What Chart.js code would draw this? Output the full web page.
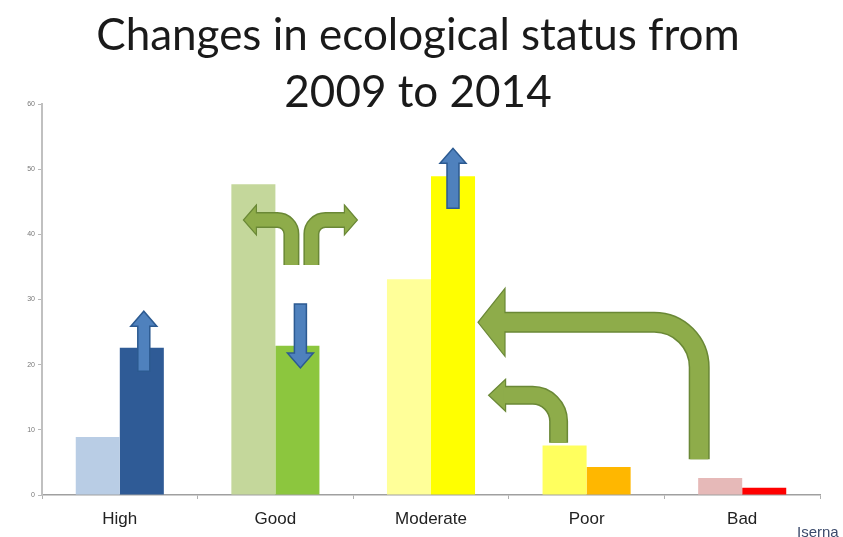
<!DOCTYPE html>
<html>
<head>
<meta charset="utf-8">
<script src="https://cdn.jsdelivr.net/npm/chart.js@4.4.1/dist/chart.umd.min.js"></script>
<style>
  html, body { margin: 0; padding: 0; background: #ffffff; }
  #wrap { position: relative; width: 843px; height: 537px; }
  canvas { display: block; }
</style>
</head>
<body>
<div id="wrap"><canvas id="c" width="843" height="537"></canvas></div>
<script>
// ---- data ----
const titleLines = ["Changes in ecological status from", "2009 to 2014"];
const categories = ["High", "Good", "Moderate", "Poor", "Bad"];
const values2009 = [8.9, 47.7, 33.1, 7.6, 2.6];
const values2014 = [22.6, 22.9, 48.9, 4.3, 1.1];
const colors2009 = ["#b9cde5", "#c4d79b", "#ffff99", "#ffff5e", "#e6b9b8"];
const colors2014 = ["#2f5b96", "#8cc63e", "#ffff00", "#ffb700", "#ff0000"];
const yTicks = [0, 10, 20, 30, 40, 50, 60];
const footnote = "Iserna";

// arrow annotations: category index + pixel offset for x, data value for y
const blueArrows = [
  { cat: 0, dx: 24, from: 19.0, to: 28.2 },
  { cat: 1, dx: 25, from: 29.3, to: 19.5 },
  { cat: 2, dx: 22, from: 44.0, to: 53.2 }
];
const greenArrows = [
  { cat: 1, dx: 16, bottom: 35.3, level: 42.2, tipCat: 1, tipDx: -32, w: 14, head: 30, headLen: 13, r: 14 },
  { cat: 1, dx: 36, bottom: 35.3, level: 42.2, tipCat: 1, tipDx: 82, w: 14, head: 30, headLen: 13, r: 14 },
  { cat: 3, dx: -28, bottom: 8.0, level: 15.3, tipCat: 3, tipDx: -98, w: 17, head: 32, headLen: 17, r: 26 },
  { cat: 4, dx: -43, bottom: 5.5, level: 26.5, tipCat: 2, tipDx: 47, w: 19, head: 68, headLen: 27, r: 45 }
];

const titlePlugin = {
  id: 'slideTitle',
  afterDraw(chart) {
    const ctx = chart.ctx;
    ctx.save();
    ctx.fillStyle = '#1a1a1a';
    ctx.font = '44px Lato, "Open Sans", sans-serif';
    ctx.textAlign = 'center';
    ctx.textBaseline = 'alphabetic';
    ctx.fillText(titleLines[0], 418, 50);
    ctx.fillText(titleLines[1], 418, 107);
    ctx.font = '15px "Liberation Sans", Arial, sans-serif';
    ctx.fillStyle = '#3b4a6b';
    ctx.textAlign = 'left';
    ctx.fillText(footnote, 797, 537);
    ctx.restore();
  }
};

function drawStraightArrow(ctx, x, y0, y1) {
  const w = 12, hw = 26, hl = 15;
  const dir = y1 < y0 ? -1 : 1;
  const base = y1 - dir * hl;
  ctx.beginPath();
  ctx.moveTo(x - w / 2, y0);
  ctx.lineTo(x - w / 2, base);
  ctx.lineTo(x - hw / 2, base);
  ctx.lineTo(x, y1);
  ctx.lineTo(x + hw / 2, base);
  ctx.lineTo(x + w / 2, base);
  ctx.lineTo(x + w / 2, y0);
  ctx.closePath();
  ctx.fillStyle = '#4f81bd';
  ctx.fill();
  ctx.lineWidth = 1.5;
  ctx.strokeStyle = '#2c5a91';
  ctx.stroke();
}

function drawBentArrow(ctx, xv, yb, yh, xt, a) {
  const dir = xt < xv ? -1 : 1;
  const headBase = xt - dir * a.headLen;
  const fill = '#8eac4a', edge = '#6a8836';
  const path = () => {
    ctx.beginPath();
    ctx.moveTo(xv, yb);
    ctx.lineTo(xv, yh + a.r);
    ctx.arcTo(xv, yh, xv + dir * a.r, yh, a.r);
    ctx.lineTo(headBase + dir * 2, yh);
  };
  ctx.lineCap = 'butt';
  path();
  ctx.strokeStyle = edge;
  ctx.lineWidth = a.w + 2;
  ctx.stroke();
  ctx.beginPath();
  ctx.moveTo(headBase, yh - a.head / 2);
  ctx.lineTo(xt, yh);
  ctx.lineTo(headBase, yh + a.head / 2);
  ctx.closePath();
  ctx.fillStyle = fill;
  ctx.fill();
  ctx.lineWidth = 1.2;
  ctx.strokeStyle = edge;
  ctx.stroke();
  path();
  ctx.strokeStyle = fill;
  ctx.lineWidth = a.w - 1;
  ctx.stroke();
}

const arrowPlugin = {
  id: 'arrows',
  afterDatasetsDraw(chart) {
    const ctx = chart.ctx;
    const xs = chart.scales.x, ys = chart.scales.y;
    ctx.save();
    greenArrows.forEach(a => {
      drawBentArrow(ctx,
        xs.getPixelForValue(a.cat) + a.dx,
        ys.getPixelForValue(a.bottom),
        ys.getPixelForValue(a.level),
        xs.getPixelForValue(a.tipCat) + a.tipDx, a);
    });
    blueArrows.forEach(a => {
      drawStraightArrow(ctx, xs.getPixelForValue(a.cat) + a.dx,
        ys.getPixelForValue(a.from), ys.getPixelForValue(a.to));
    });
    ctx.restore();
  }
};

new Chart(document.getElementById('c'), {
  type: 'bar',
  data: {
    labels: categories,
    datasets: [
      { label: '2009', data: values2009, backgroundColor: colors2009, borderWidth: 0 },
      { label: '2014', data: values2014, backgroundColor: colors2014, borderWidth: 0 }
    ]
  },
  options: {
    responsive: false,
    animation: false,
    events: [],
    layout: { padding: { top: 104, right: 23, left: 0, bottom: 0 } },
    datasets: { bar: { categoryPercentage: 0.566, barPercentage: 1.0 } },
    plugins: { legend: { display: false }, tooltip: { enabled: false }, title: { display: false } },
    scales: {
      x: {
        afterFit(s) { s.height = 42; },
        grid: { display: true, drawOnChartArea: false, drawTicks: true, tickLength: 4, color: '#b0b0b0', offset: true },
        border: { display: true, color: '#a0a0a0', width: 1.5 },
        ticks: { color: '#222222', font: { family: '"Liberation Sans", Arial, sans-serif', size: 17 }, padding: 10 }
      },
      y: {
        min: 0, max: 60,
        afterFit(s) { s.width = 42; },
        afterBuildTicks(s) { s.ticks = yTicks.map(v => ({ value: v })); },
        grid: { display: true, drawOnChartArea: false, drawTicks: true, tickLength: 4, color: '#b8b8b8' },
        border: { display: true, color: '#c0c0c0', width: 2 },
        ticks: { color: '#777777', font: { family: '"Liberation Sans", Arial, sans-serif', size: 7 }, padding: 3 }
      }
    }
  },
  plugins: [arrowPlugin, titlePlugin]
});
</script>
</body>
</html>
